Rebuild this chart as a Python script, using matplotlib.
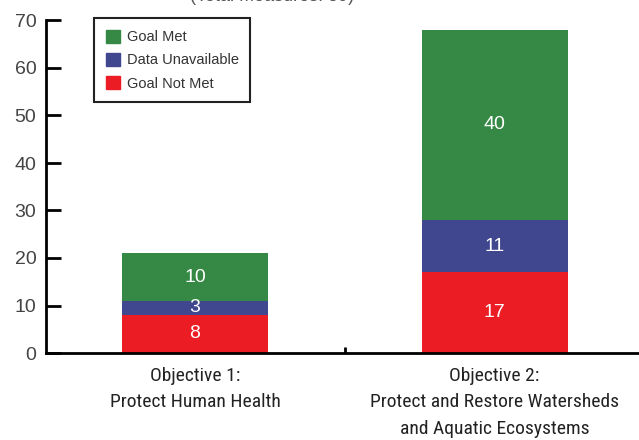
import numpy as np
import matplotlib
matplotlib.use("Agg")
import matplotlib.pyplot as plt
from matplotlib.patches import Patch

# data
objectives = ["Objective 1:\nProtect Human Health",
              "Objective 2:\nProtect and Restore Watersheds\nand Aquatic Ecosystems"]
goal_not_met = [8, 17]
data_unavailable = [3, 11]
goal_met = [10, 40]
total_title = "(Total Measures: 89)"

c_red = "#ec1c24"
c_blue = "#41478f"
c_green = "#358944"

plt.rcParams["font.family"] = ["Liberation Sans", "DejaVu Sans"]

fig = plt.figure(figsize=(6.39, 4.40), dpi=100)
ax = fig.add_axes([46 / 639, 87 / 440, 593 / 639, 332.5 / 440])

x = np.arange(len(objectives))
w = 0.487
b1 = np.array(goal_not_met)
b2 = b1 + np.array(data_unavailable)

ax.bar(x, goal_not_met, w, color=c_red)
ax.bar(x, data_unavailable, w, bottom=b1, color=c_blue)
ax.bar(x, goal_met, w, bottom=b2, color=c_green)

# segment labels
for i in range(len(x)):
    segs = [(0, goal_not_met[i]), (b1[i], data_unavailable[i]), (b2[i], goal_met[i])]
    for bottom, h in segs:
        ax.text(x[i], bottom + h / 2, str(h), ha="center", va="center",
                color="white", fontsize=14)

ax.set_xlim(-0.4975, 1.482)
ax.set_ylim(0, 70)
ax.set_yticks(np.arange(0, 71, 10))
ax.tick_params(axis="y", direction="in", length=11, width=2,
               labelsize=14, labelcolor="#444444", pad=7)

ax.set_xticks(x)
ax.set_xticklabels(objectives, family=["Roboto Condensed", "Liberation Sans"],
                   fontsize=14, color="#222222", linespacing=1.6)
ax.tick_params(axis="x", length=0, pad=10)
ax.set_xticks([0.5], minor=True)
ax.tick_params(axis="x", which="minor", direction="in", length=4.5, width=2)

for s in ["top", "right"]:
    ax.spines[s].set_visible(False)
for s in ["left", "bottom"]:
    ax.spines[s].set_linewidth(2)
ax.spines["left"].set_capstyle("projecting")

handles = [Patch(color=c_green), Patch(color=c_blue), Patch(color=c_red)]
leg = fig.legend(handles, ["Goal Met", "Data Unavailable", "Goal Not Met"],
                 loc="upper left", bbox_to_anchor=(94 / 639, 1 - 18 / 440),
                 fontsize=10.5, frameon=True, fancybox=False, framealpha=1,
                 edgecolor="#222222", handlelength=1.0, handleheight=1.0,
                 handletextpad=0.45, labelspacing=0.6, borderpad=0.8,
                 borderaxespad=0)
leg.get_frame().set_linewidth(1.5)
for t in leg.get_texts():
    t.set_color("#333333")

fig.text(272 / 639, 1 - 1 / 440, total_title, ha="center", va="baseline",
         fontsize=13, color="#555555")

fig.savefig("out.png", dpi=100)
